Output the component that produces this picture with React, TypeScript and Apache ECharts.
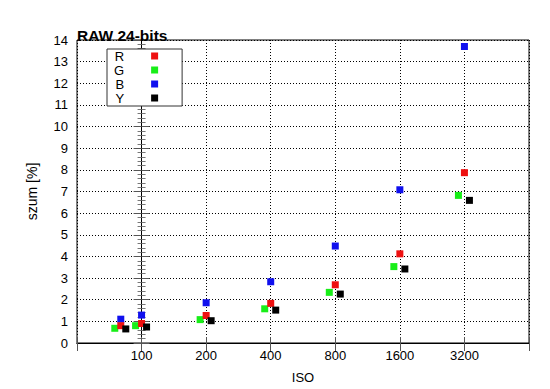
import React, { useEffect, useRef } from "react";
import * as echarts from "echarts";

const ISO = [80, 100, 200, 400, 800, 1600, 3200];
const X_TICK_LABELS = ["100", "200", "400", "800", "1600", "3200"];
const R = [0.8, 0.9, 1.27, 1.83, 2.69, 4.12, 7.87];
const G = [0.68, 0.8, 1.08, 1.58, 2.34, 3.53, 6.82];
const B = [1.1, 1.29, 1.86, 2.83, 4.48, 7.08, 13.7];
const Y = [0.65, 0.74, 1.03, 1.52, 2.26, 3.42, 6.59];

const FONT = "Liberation Sans, Arial, sans-serif";

// ISO axis is logarithmic (base 2), measured in octaves relative to ISO 100
const toOct = (iso: number) => Math.log2(iso / 100);

export default function App() {
  const ref = useRef<HTMLDivElement>(null);
  useEffect(() => {
    if (!ref.current) return;
    const chart = echarts.init(ref.current, undefined, { renderer: "svg" });
    const mk = (vals: number[]) => ISO.map((iso, i) => [toOct(iso), vals[i]]);
    const sq = (name: string, vals: number[], color: string, off: number[]) => ({
      name,
      type: "scatter",
      data: mk(vals),
      symbol: "rect",
      symbolSize: 7,
      symbolOffset: off,
      itemStyle: { color, opacity: 1 },
      emphasis: { disabled: true },
    });
    const xLabel = (v: number) => {
      const s = String(Math.round(100 * Math.pow(2, v)));
      return X_TICK_LABELS.includes(s) && v >= 0 ? s : "";
    };
    chart.setOption({
      animation: false,
      textStyle: { fontFamily: FONT },
      title: {
        text: "RAW 24-bits",
        left: 72,
        top: 22,
        textStyle: { fontFamily: FONT, fontSize: 15.5, fontWeight: "bold", color: "#000" },
      },
      grid: {
        left: 77,
        right: 21,
        top: 40,
        bottom: 45,
        show: true,
        borderColor: "#000",
        borderWidth: 1,
        backgroundColor: "transparent",
      },
      legend: {
        data: ["R", "G", "B", "Y"],
        orient: "vertical",
        align: "right",
        left: 107,
        top: 49,
        itemWidth: 7,
        itemHeight: 7,
        itemGap: 0,
        padding: [0, 24, 1, 7],
        backgroundColor: "#fff",
        borderColor: "#333",
        borderWidth: 1,
        borderRadius: 0,
        icon: "rect",
        selectedMode: false,
        textStyle: {
          fontFamily: FONT,
          fontSize: 13,
          lineHeight: 14,
          color: "#000",
          padding: [0, 22, 0, 0],
        },
        z: 10,
      },
      xAxis: [
        {
          type: "value",
          min: -1,
          max: 6,
          interval: 1,
          name: "ISO",
          nameLocation: "middle",
          nameGap: 28,
          nameTextStyle: { fontFamily: FONT, fontSize: 13, color: "#000" },
          axisLine: { show: true, lineStyle: { color: "#000", width: 1 } },
          axisTick: { show: true, inside: true, length: 6, lineStyle: { color: "#555" } },
          axisLabel: { formatter: xLabel, fontFamily: FONT, fontSize: 13, color: "#000", margin: 6 },
          splitLine: { show: true, lineStyle: { color: "#000", type: [1, 2], width: 1 } },
        },
        {
          type: "value",
          position: "top",
          min: -1,
          max: 6,
          interval: 1,
          axisLine: { show: true, lineStyle: { color: "#000", width: 1 } },
          axisTick: { show: true, inside: true, length: 8, lineStyle: { color: "#555" } },
          axisLabel: { show: false },
          splitLine: { show: false },
        },
      ],
      yAxis: [
        {
          type: "value",
          min: 0,
          max: 14,
          interval: 1,
          name: "szum [%]",
          nameLocation: "middle",
          nameGap: 38,
          nameTextStyle: { fontFamily: FONT, fontSize: 14, color: "#000" },
          axisLine: { show: true, lineStyle: { color: "#000", width: 1 } },
          axisTick: { show: true, inside: true, length: 8, lineStyle: { color: "#555" } },
          minorTick: { show: true, splitNumber: 5, length: 4, lineStyle: { color: "#777" } },
          axisLabel: { fontFamily: FONT, fontSize: 13, color: "#000", margin: 9 },
          splitLine: { show: true, lineStyle: { color: "#000", type: [1, 2], width: 1 } },
        },
        {
          type: "value",
          position: "right",
          min: 0,
          max: 14,
          interval: 1,
          axisLine: { show: true, lineStyle: { color: "#000", width: 1 } },
          axisTick: { show: true, inside: true, length: 8, lineStyle: { color: "#555" } },
          minorTick: { show: true, splitNumber: 5, length: 4, lineStyle: { color: "#777" } },
          axisLabel: { show: false },
          splitLine: { show: false },
        },
      ],
      series: [
        sq("B", B, "#1010ee", [0, 0]),
        sq("G", G, "#18ee18", [-6, 0]),
        sq("R", R, "#ee1010", [0, 0]),
        sq("Y", Y, "#000000", [5, 0]),
      ],
    });
    return () => chart.dispose();
  }, []);
  return (
    <div
      ref={ref}
      style={{ position: "fixed", left: 0, top: 0, width: 550, height: 389, background: "#fff" }}
    />
  );
}
